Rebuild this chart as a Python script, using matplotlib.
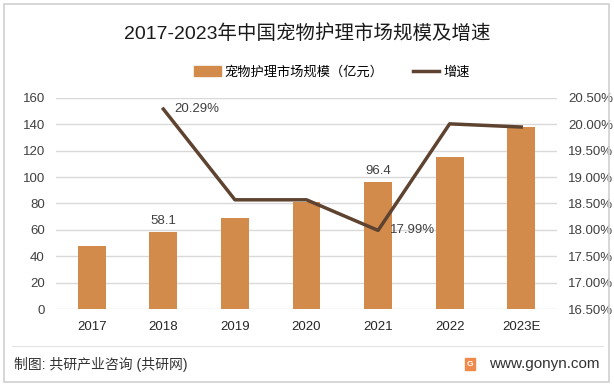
import numpy as np
import matplotlib.pyplot as plt
from matplotlib.patches import Rectangle
from matplotlib.lines import Line2D

plt.rcParams['font.family'] = ['Liberation Sans', 'Noto Sans CJK SC', 'DejaVu Sans']

years = ['2017', '2018', '2019', '2020', '2021', '2022', '2023E']
market_size = [48.0, 58.1, 68.8, 81.3, 96.4, 115.0, 138.3]
growth = [np.nan, 20.29, 18.57, 18.57, 17.99, 20.01, 19.95]

size_labels = {1: '58.1', 4: '96.4'}
growth_labels = {1: '20.29%', 4: '17.99%'}

bar_color = '#D38B4C'
line_color = '#5E4330'
grid_color = '#D9D9D9'
text_color = '#404040'


def main():
    fig = plt.figure(figsize=(6.14, 3.86), dpi=100)
    fig.patch.set_facecolor('white')

    # outer frame
    fig.patches.append(Rectangle((4 / 614, 4 / 386), 605 / 614, 378 / 386,
                                 transform=fig.transFigure, fill=False,
                                 edgecolor='#D0D0D0', linewidth=1.2))

    ax = fig.add_axes([56 / 614, 1 - 309 / 386, 501 / 614, 211 / 386])
    x = np.arange(len(years))
    ax.bar(x, market_size, width=0.39, color=bar_color, zorder=2)
    ax.set_xlim(-0.5, len(years) - 0.5)
    ax.set_ylim(0, 160)
    ax.set_yticks(np.arange(0, 161, 20))
    ax.grid(axis='y', color=grid_color, linewidth=1, zorder=0)
    ax.set_axisbelow(True)
    for s in ax.spines.values():
        s.set_visible(False)
    ax.tick_params(length=0, labelsize=9.5, colors=text_color)
    ax.tick_params(axis='y', pad=8)
    ax.tick_params(axis='x', pad=9, colors='#262626')
    ax.set_xticks(x)
    ax.set_xticklabels(years)
    for i, t in size_labels.items():
        ax.text(x[i], market_size[i] + 4, t, ha='center', va='bottom',
                fontsize=9.5, color=text_color)

    ax2 = ax.twinx()
    ax2.plot(x, growth, color=line_color, linewidth=2.5, zorder=3)
    ax2.set_ylim(16.5, 20.5)
    ax2.set_yticks(np.arange(16.5, 20.51, 0.5))
    ax2.set_yticklabels(['%.2f%%' % v for v in np.arange(16.5, 20.51, 0.5)])
    for s in ax2.spines.values():
        s.set_visible(False)
    ax2.tick_params(length=0, labelsize=9.5, colors=text_color, pad=8)
    for i, t in growth_labels.items():
        ax2.text(x[i] + 0.16, growth[i], t, ha='left', va='center',
                 fontsize=9.5, color=text_color)

    fig.text(0.5, 1 - 34 / 386, '2017-2023年中国宠物护理市场规模及增速',
             ha='center', va='center', fontsize=14, color='#1A1A1A')

    handles = [Rectangle((0, 0), 1, 1, color=bar_color),
               Line2D([0], [0], color=line_color, linewidth=2.5)]
    fig.legend(handles, ['宠物护理市场规模（亿元）', '增速'],
               loc='center', bbox_to_anchor=(332 / 614, 1 - 72 / 386), ncol=2,
               frameon=False, fontsize=9.5, handlelength=2.0, handleheight=0.8,
               columnspacing=2.2, handletextpad=0.3)

    fig.add_artist(Line2D([12 / 614, 603 / 614], [1 - 346 / 386] * 2,
                          transform=fig.transFigure, color='#E3E3E3',
                          linewidth=0.8))
    fig.text(14 / 614, 1 - 364 / 386, '制图: 共研产业咨询 (共研网)',
             ha='left', va='center', fontsize=10, color='#333333')
    fig.text(600 / 614, 1 - 364 / 386, 'www.gonyn.com',
             ha='right', va='center', fontsize=11, color='#333333')
    fig.patches.append(Rectangle((465 / 614, 1 - 370 / 386), 10 / 614, 12 / 386,
                                 transform=fig.transFigure, color='#F08A4B'))
    fig.text(470 / 614, 1 - 364 / 386, 'G', ha='center', va='center',
             fontsize=6, color='white', fontweight='bold')

    fig.savefig('out.png', dpi=100)


if __name__ == "__main__":
    main()
